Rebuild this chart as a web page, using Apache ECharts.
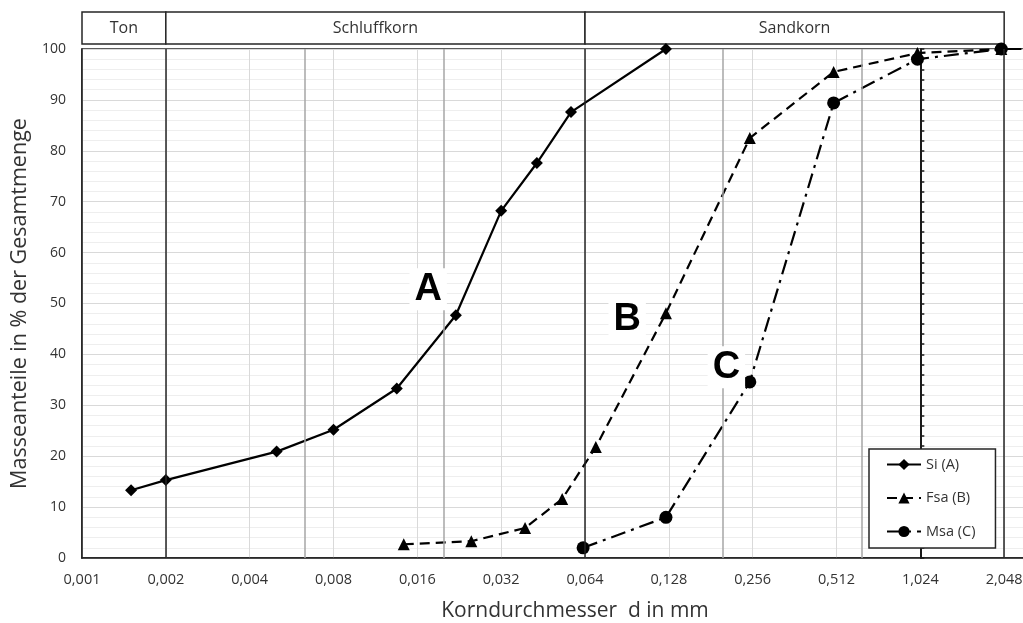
<!DOCTYPE html>
<html>
<head>
<meta charset="utf-8">
<title>Körnungslinien</title>
<script src="https://cdn.jsdelivr.net/npm/echarts@6/dist/echarts.min.js"></script>
<style>
  html, body { margin: 0; padding: 0; background: #fff; }
  #chart { width: 1023px; height: 623px; }
</style>
</head>
<body>
<div id="chart"></div>
<script>
// Sieve tick labels (powers of two starting at 0,001 mm)
const xTickLabels = ['0,001', '0,002', '0,004', '0,008', '0,016', '0,032', '0,064', '0,128', '0,256', '0,512', '1,024', '2,048', '4,096'];

// Grain size curves: diameter d in mm and passing mass in %
const siDiameter  = [0.0015, 0.002, 0.005, 0.008, 0.0135, 0.022, 0.032, 0.043, 0.057, 0.125];
const siPassing   = [13.3, 15.3, 20.9, 25.2, 33.3, 47.7, 68.2, 77.6, 87.6, 100];
const fsaDiameter = [0.0143, 0.025, 0.039, 0.053, 0.07, 0.125, 0.25, 0.5, 1.0, 2.0, 4.0];
const fsaPassing  = [2.7, 3.3, 5.9, 11.6, 21.8, 48.1, 82.5, 95.5, 99.2, 100, 100];
const msaDiameter = [0.063, 0.125, 0.25, 0.5, 1.0, 2.0, 4.0];
const msaPassing  = [2.0, 8.0, 34.6, 89.4, 98.0, 100, 100];

const curveNames = ['Si (A)', 'Fsa (B)', 'Msa (C)'];

// Soil fractions shown in the header band
const fractionNames  = ['Ton', 'Schluffkorn', 'Sandkorn'];
const fractionBounds = [0.001, 0.002, 0.064, 2.048];
// Sub-fraction limits (fein / mittel / grob)
const subBounds = [0.0063, 0.02, 0.2, 0.63];

const FONT = '"Open Sans", Lato, sans-serif';
const REF = 1.024;                       // 1,024 mm sits on x = 0
const toX = d => Math.log2(d / REF);     // log2 grain-size scale
const pts = (ds, ps) => ds.map((d, i) => [toX(d), ps[i]]);

const letter = (txt, d, p) => ({
  silent: true,
  symbol: 'circle',
  symbolSize: 1,
  itemStyle: { color: 'rgba(0,0,0,0)' },
  label: {
    show: true, position: 'inside', formatter: txt,
    fontFamily: '"Liberation Sans", Arial, sans-serif', fontWeight: 'bold',
    fontSize: 38, color: '#000', backgroundColor: '#fff', padding: [2, 5]
  },
  data: [{ coord: [toX(d), p] }]
});

const vline = (d, color, width) => ({ xAxis: toX(d), lineStyle: { color: color, width: width, type: 'solid' } });

const chart = echarts.init(document.getElementById('chart'), null, { renderer: 'canvas' });

chart.setOption({
  animation: false,
  backgroundColor: '#fff',
  textStyle: { fontFamily: FONT },
  grid: {
    left: 82, top: 49, right: -65, bottom: 65,
    outerBoundsMode: 'none', containLabel: false,
    show: true, borderColor: '#262626', borderWidth: 1.5
  },
  xAxis: {
    type: 'value', min: -10, max: 2, interval: 1,
    axisLine: { onZero: false, lineStyle: { color: '#1a1a1a', width: 1.5 } },
    axisTick: { show: false },
    axisLabel: {
      formatter: v => xTickLabels[Math.round(v) + 10],
      fontSize: 14.5, color: '#333', margin: 14, fontFamily: FONT
    },
    splitLine: { show: true, lineStyle: { color: '#d9d9d9', width: 1 } },
    name: 'Korndurchmesser  d in mm', nameLocation: 'middle', nameGap: 43,
    nameTextStyle: { fontSize: 21, color: '#333', fontFamily: FONT, padding: [0, 20, 0, 0] }
  },
  yAxis: [
    {
      type: 'value', min: 0, max: 100, interval: 10, position: 'left',
      axisLine: { show: true, onZero: false, lineStyle: { color: '#1a1a1a', width: 1.5 } },
      axisTick: { show: false },
      axisLabel: { fontSize: 14, color: '#333', margin: 16, fontFamily: FONT },
      splitLine: { lineStyle: { color: '#d9d9d9', width: 1 } },
      minorTick: { show: false, splitNumber: 5 },
      minorSplitLine: { show: true, lineStyle: { color: '#eeeeee', width: 1 } },
      name: 'Masseanteile in % der Gesamtmenge', nameLocation: 'middle', nameGap: 49,
      nameTextStyle: { fontSize: 21.5, color: '#333', fontFamily: FONT }
    },
    {
      // axis crossing at 1,024 mm with fine ticks every 2 %
      type: 'value', min: 0, max: 100, interval: 2, position: 'left',
      axisLine: { show: true, onZero: true, lineStyle: { color: '#1a1a1a', width: 2 } },
      axisTick: { show: true, inside: true, length: 4, lineStyle: { color: '#1a1a1a', width: 1.5 } },
      axisLabel: { show: false },
      splitLine: { show: false }
    }
  ],
  legend: {
    data: curveNames,
    orient: 'vertical', left: 869, top: 449,
    padding: [8, 20, 9, 17], itemGap: 18.5,
    itemWidth: 34, itemHeight: 14,
    backgroundColor: '#fff', borderColor: '#262626', borderWidth: 1.5,
    textStyle: { fontSize: 14.5, color: '#333', fontFamily: FONT }
  },
  series: [
    {
      name: 'Grenzen', type: 'line', data: [], z: 1, silent: true,
      markLine: {
        silent: true, symbol: 'none', label: { show: false },
        data: fractionBounds.slice(1).map(d => vline(d, '#262626', 1.5))
          .concat(subBounds.map(d => vline(d, '#a6a6a6', 1.5)))
      }
    },
    {
      name: curveNames[0], type: 'line', z: 3,
      data: pts(siDiameter, siPassing),
      symbol: 'diamond', symbolSize: 12,
      itemStyle: { color: '#000' },
      lineStyle: { color: '#000', width: 2.2, type: 'solid' },
      markPoint: letter('A', 0.0175, 52.8)
    },
    {
      name: curveNames[1], type: 'line', z: 3,
      data: pts(fsaDiameter, fsaPassing),
      symbol: 'triangle', symbolSize: 12,
      itemStyle: { color: '#000' },
      lineStyle: { color: '#000', width: 2.2, type: [10, 6] },
      markPoint: letter('B', 0.0907, 46.9)
    },
    {
      name: curveNames[2], type: 'line', z: 3,
      data: pts(msaDiameter, msaPassing),
      symbol: 'circle', symbolSize: 13,
      itemStyle: { color: '#000' },
      lineStyle: { color: '#000', width: 2.2, type: [15, 6, 3, 6] },
      markPoint: letter('C', 0.206, 37.5)
    }
  ]
});

// Header band with the soil fraction names, aligned to the x scale
const px = d => chart.convertToPixel({ xAxisIndex: 0 }, toX(d));
const headerTop = 12, headerH = 32;
const header = [];
fractionNames.forEach((name, i) => {
  const x0 = px(fractionBounds[i]), x1 = px(fractionBounds[i + 1]);
  header.push({
    type: 'rect', silent: true,
    shape: { x: x0, y: headerTop, width: x1 - x0, height: headerH },
    style: { fill: '#fff', stroke: '#262626', lineWidth: 1.5 }
  });
  header.push({
    type: 'text', silent: true,
    x: (x0 + x1) / 2, y: headerTop + headerH / 2,
    style: { text: name, fill: '#333', font: '16px ' + FONT, align: 'center', verticalAlign: 'middle' }
  });
});
chart.setOption({ graphic: header });
</script>
</body>
</html>
